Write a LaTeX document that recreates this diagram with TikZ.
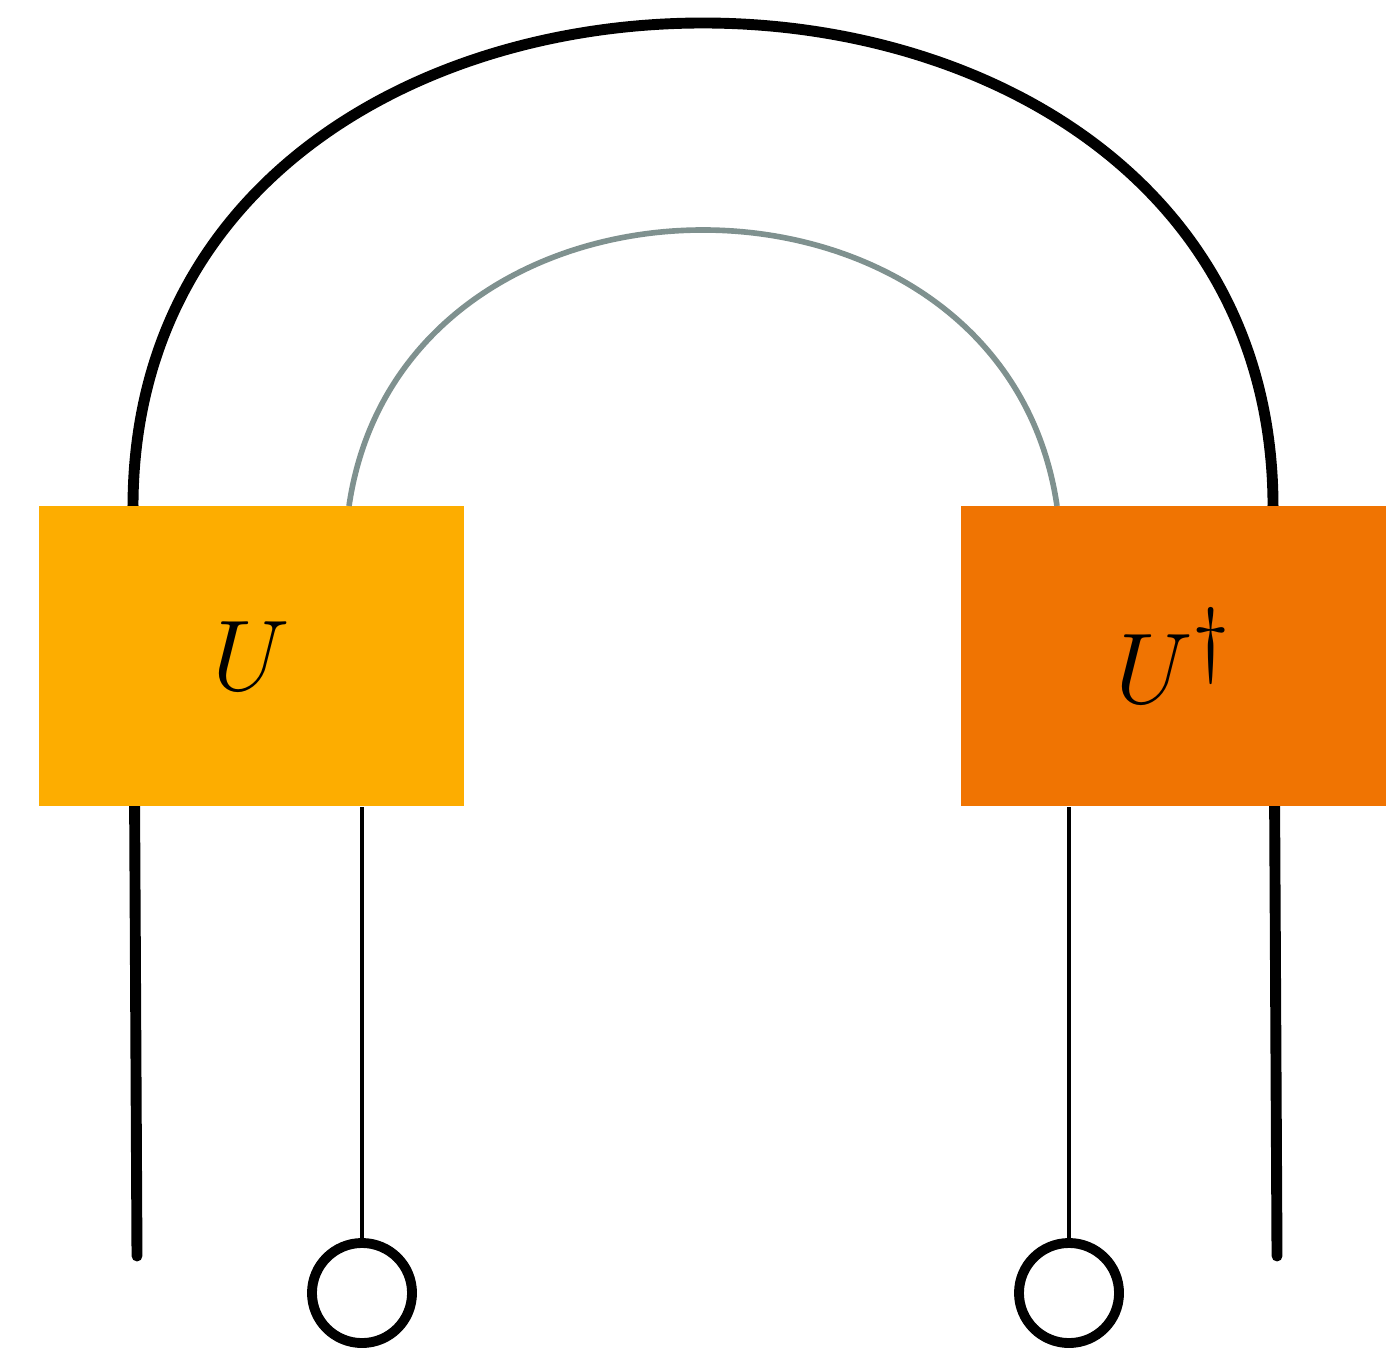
\documentclass[tikz,border=0pt]{standalone}
\definecolor{boxU}{RGB}{253,173,0}
\definecolor{boxUd}{RGB}{240,116,2}
\definecolor{wiregray}{RGB}{127,145,143}
\newcommand{\gatelabel}[1]{\scalebox{1.15}{\fontsize{24.88}{30}\selectfont$#1$}}
\begin{document}
\begin{tikzpicture}[x=0.01cm,y=-0.01cm,
  gatebox/.style={minimum width=4.25cm,minimum height=3cm,inner sep=0pt},
  roughwire/.style={line width=3.1pt,black,line cap=round},
  wire/.style={line width=1.4pt,black},
  gwire/.style={line width=1.6pt,wiregray},
  endcap/.style={circle,draw=black,line width=2.8pt,minimum size=1cm,inner sep=0pt,fill=white}]
\useasboundingbox (0,0) rectangle (1389,1349);
% outer wire (behind boxes)
\coordinate (oL) at (133,506);
\coordinate (oR) at (1273,506);
\coordinate (oLb) at (137,1256);
\coordinate (oRb) at (1277,1256);
\draw[roughwire] (oLb) -- (oL);
\draw[roughwire] (oRb) -- (oR);
\draw[roughwire] (oL) .. controls (134,-138) and (1272,-138) .. (oR);
% boxes
\node[gatebox,fill=boxU] (U) at (251.5,656) {\gatelabel{U}};
\node[gatebox,fill=boxUd] (Ud) at (1173.5,656) {\gatelabel{U^{\dagger}}};
% gray inner wire
\coordinate (gL) at (349,506);
\coordinate (gR) at (1057,506);
\draw[gwire] (gL) .. controls (403,138) and (1003,138) .. (gR);
% caps
\node[endcap] (c1) at (362,1293) {};
\node[endcap] (c2) at (1069,1293) {};
\draw[wire] (c1.north) -- (c1 |- U.south);
\draw[wire] (c2.north) -- (c2 |- Ud.south);
\end{tikzpicture}
\end{document}
